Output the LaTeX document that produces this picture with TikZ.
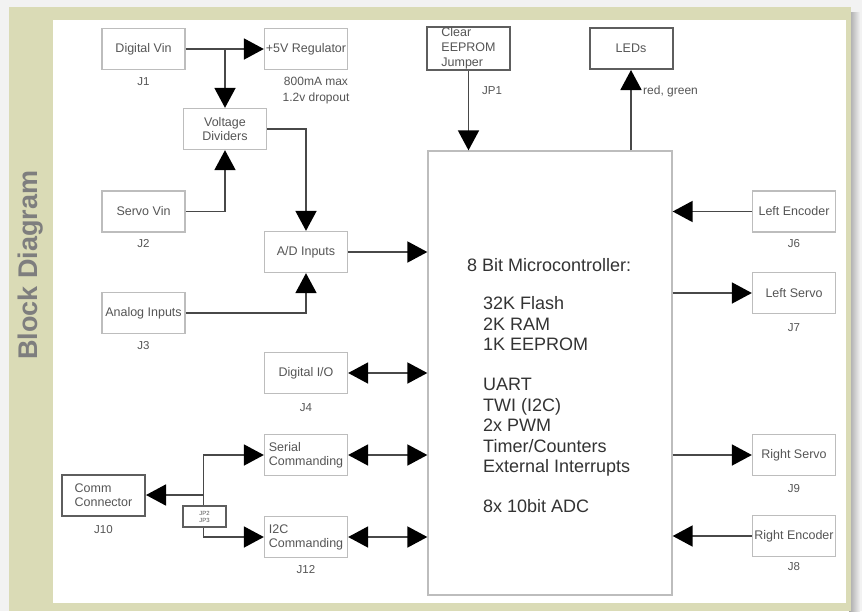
\documentclass[tikz,border=0pt]{standalone}
\usepackage{fontspec}
\setmainfont{Liberation Sans}
\usepackage{xcolor}
\usetikzlibrary{arrows.meta, positioning, calc}

\definecolor{bggray}{HTML}{F2F2F2}
\definecolor{frameolive}{HTML}{DADBB6}
\definecolor{titlegray}{HTML}{7E7E7E}
\definecolor{boxgray}{HTML}{BDBDBD}
\definecolor{rimgray}{HTML}{5E5E5E}
\definecolor{wiregray}{HTML}{484848}
\definecolor{txtgray}{HTML}{555555}
\definecolor{mcutxt}{HTML}{333333}

\begin{document}
\begin{tikzpicture}[x=1pt,y=-1pt,
                    >={Triangle[length=20pt,width=21pt,color=black]},
                    block/.style={draw=boxgray,line width=1.3pt,minimum width=83pt,minimum height=41pt,
                                  inner sep=1pt,font=\fontsize{12.5}{14}\selectfont,text=txtgray,align=center},
                    thick block/.style={block,draw=rimgray,line width=2pt},
                    tag/.style={inner sep=1pt,font=\fontsize{11.5}{13}\selectfont,text=txtgray},
                    wire/.style={draw=wiregray,line width=1.8pt}]

  \useasboundingbox (0,0) rectangle (862,611);
  \fill[bggray] (0,0) rectangle (862,611);
  \shade[left color=gray!70,right color=bggray] (849,12) rectangle (860,611);
  \fill[frameolive] (9,7) rectangle (851,611);
  \fill[white] (53,20) rectangle (846,603);

  \node[rotate=90,font=\fontsize{27}{30}\selectfont\bfseries,text=titlegray] (title) at (30.5,265) {Block Diagram};

  \node[block] (dvin) at (143.5,49) {Digital Vin};
  \node[block] (reg) at (306,49) {+5V Regulator};
  \node[block] (div) at (225,129) {Voltage\\Dividers};
  \node[block] (svin) at (143.5,211.5) {Servo Vin};
  \node[block] (ad) at (306,252) {A/D Inputs};
  \node[block] (ain) at (143.5,313) {Analog Inputs};
  \node[block] (dio) at (306,373) {Digital I/O};
  \node[block,align=left] (ser) at (306,455) {Serial\\Commanding};
  \node[block,align=left] (iic) at (306,537) {I2C\\Commanding};
  \node[thick block,align=left] (comm) at (103.5,495) {Comm\\Connector};
  \node[thick block,align=left,font=\fontsize{12.5}{15}\selectfont] (clr) at (468.5,48.5) {Clear\\EEPROM\\Jumper};
  \node[thick block] (leds) at (631,48.5) {LEDs};
  \node[block,minimum width=244pt,minimum height=444pt] (mcu) at (550,373) {};
  \node[block] (lenc) at (794,211.5) {Left Encoder};
  \node[block] (lsrv) at (794,293) {Left Servo};
  \node[block] (rsrv) at (794,455) {Right Servo};
  \node[block] (renc) at (794,536) {Right Encoder};

  \node[anchor=west,inner sep=0pt,font=\fontsize{18}{20.4}\selectfont,text=mcutxt] (mcutitle) at (467,265) {8 Bit Microcontroller:};
  \node[anchor=north west,inner sep=0pt,align=left,font=\fontsize{18}{20.4}\selectfont,text=mcutxt] (mculist) at (483,296.5)
    {32K Flash\\2K RAM\\1K EEPROM\\[20pt]UART\\TWI (I2C)\\2x PWM\\Timer/Counters\\External Interrupts\\[20pt]8x 10bit ADC};

  \node[tag,below=6pt of dvin] (j1) {J1};
  \node[tag,below=6pt of svin] (j2) {J2};
  \node[tag,below=6pt of ain] (j3) {J3};
  \node[tag,below=8pt of dio] (j4) {J4};
  \node[tag,below=6pt of iic] (j12) {J12};
  \node[tag,below=8pt of comm] (j10) {J10};
  \node[tag,below=6pt of lenc] (j6) {J6};
  \node[tag,below=8pt of lsrv] (j7) {J7};
  \node[tag,below=7pt of rsrv] (j9) {J9};
  \node[tag,below=4pt of renc] (j8) {J8};
  \node[tag] (jp1) at (492,91) {JP1};
  \node[tag,align=center,font=\fontsize{12}{16}\selectfont] (regnote) at (316,91) {800mA max\\1.2v dropout};
  \node[tag,anchor=west,font=\fontsize{12}{14}\selectfont] (ledcol) at (642,91) {red, green};

  \draw[wire,->] (dvin) -- (reg);
  \draw[wire,->] (dvin -| div) -- (div);
  \draw[wire,->] (svin) -| (div);
  \draw[wire,->] (div) -| (ad);
  \draw[wire,->] (ain) -| (ad);
  \draw[wire,->] (ad) -- (ad -| mcu.west);
  \draw[wire,<->] (dio) -- (dio -| mcu.west);
  \draw[wire,<->] (ser) -- (ser -| mcu.west);
  \draw[wire,<->] (iic) -- (iic -| mcu.west);

  \coordinate (split) at (203.5,495);
  \draw[wire,->] (split) -- (comm);
  \draw[wire,->] (split) |- (ser);
  \draw[wire,->] (split) |- (iic);
  \node[thick block,fill=white,minimum width=43pt,minimum height=21pt,line width=1.6pt,
        font=\fontsize{6}{7}\selectfont] (jsel) at (204.5,516.5) {JP2\\JP3};

  \draw[wire,->] (clr) -- (clr |- mcu.north);
  \draw[wire,->] (leds |- mcu.north) -- (leds);
  \draw[wire,->] (lenc) -- (lenc -| mcu.east);
  \draw[wire,->] (lsrv -| mcu.east) -- (lsrv);
  \draw[wire,->] (rsrv -| mcu.east) -- (rsrv);
  \draw[wire,->] (renc) -- (renc -| mcu.east);

\end{tikzpicture}
\end{document}
